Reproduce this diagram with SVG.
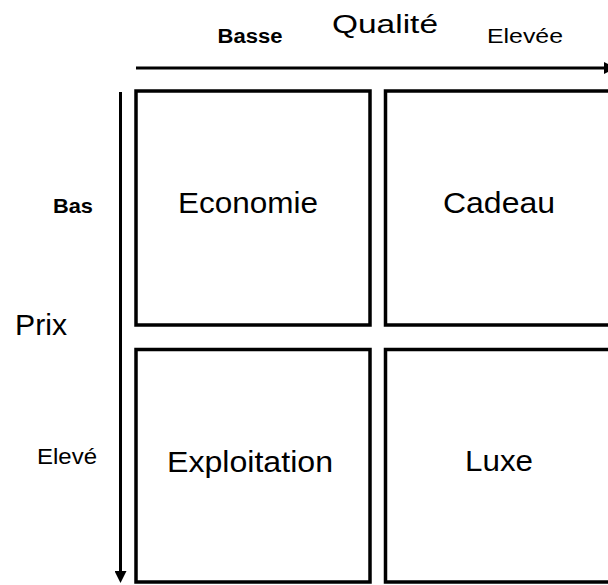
<svg xmlns="http://www.w3.org/2000/svg" width="608" height="585" viewBox="0 0 608 585">
<style>
text{font-family:"Liberation Sans",Arial,sans-serif;fill:#000}
.box{fill:#fff;stroke:#000;stroke-width:3.5}
.ax{stroke:#000;stroke-width:3;fill:none}
.lbl{font-size:30px;text-anchor:middle}
.b{font-weight:bold}
</style>
<defs>
<marker id="ah" viewBox="0 0 12 12" refX="0" refY="6" markerWidth="12" markerHeight="12" markerUnits="userSpaceOnUse" orient="auto">
<path d="M0,0 L12,6 L0,12 Z" fill="#000"/>
</marker>
</defs>
<rect width="608" height="585" fill="#fff"/>
<g id="connectors">
<line class="ax" x1="136" y1="68" x2="604" y2="68" marker-end="url(#ah)"/>
<line class="ax" x1="120.5" y1="92" x2="120.5" y2="571" marker-end="url(#ah)"/>
</g>
<g id="axis-labels">
<text x="385" y="33" font-size="25" text-anchor="middle" textLength="106" lengthAdjust="spacingAndGlyphs">Qualité</text>
<text x="250" y="43" font-size="20" class="b" text-anchor="middle" textLength="65" lengthAdjust="spacingAndGlyphs">Basse</text>
<text x="525" y="43" font-size="21" text-anchor="middle" textLength="76" lengthAdjust="spacingAndGlyphs">Elevée</text>
<text x="73" y="213" font-size="21" class="b" text-anchor="middle" textLength="40" lengthAdjust="spacingAndGlyphs">Bas</text>
<text x="41" y="335" font-size="29" text-anchor="middle" textLength="52" lengthAdjust="spacingAndGlyphs">Prix</text>
<text x="67" y="464" font-size="22" text-anchor="middle" textLength="60" lengthAdjust="spacingAndGlyphs">Elevé</text>
</g>
<g id="economie">
<rect class="box" x="136" y="91" width="234" height="234"/>
<text class="lbl" x="248" y="213" textLength="140" lengthAdjust="spacingAndGlyphs">Economie</text>
</g>
<g id="cadeau">
<rect class="box" x="385.5" y="91" width="234" height="234"/>
<text class="lbl" x="499" y="213" textLength="112" lengthAdjust="spacingAndGlyphs">Cadeau</text>
</g>
<g id="exploitation">
<rect class="box" x="136" y="349.5" width="234" height="232.5"/>
<text class="lbl" x="250" y="472" textLength="166" lengthAdjust="spacingAndGlyphs">Exploitation</text>
</g>
<g id="luxe">
<rect class="box" x="385.5" y="349.5" width="234" height="232.5"/>
<text class="lbl" x="499" y="471" textLength="68" lengthAdjust="spacingAndGlyphs">Luxe</text>
</g>
</svg>
